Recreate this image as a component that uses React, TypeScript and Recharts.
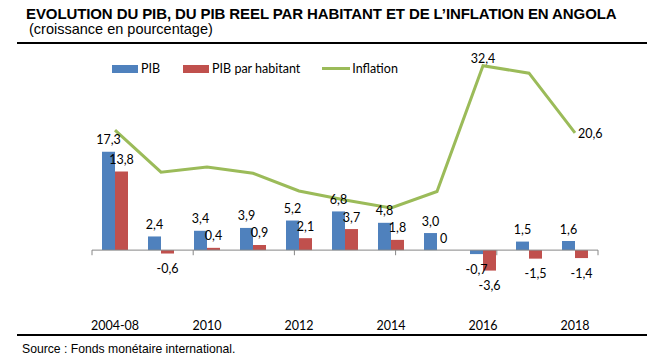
import React from "react";
import {
  ComposedChart,
  Bar,
  Line,
  XAxis,
  YAxis,
  ReferenceLine,
  LabelList,
} from "recharts";

const categories = ["2004-08", "2009", "2010", "2011", "2012", "2013", "2014", "2015", "2016", "2017", "2018"];
const pib = [17.3, 2.4, 3.4, 3.9, 5.2, 6.8, 4.8, 3.0, -0.7, 1.5, 1.6];
const pibHabitant = [13.8, -0.6, 0.4, 0.9, 2.1, 3.7, 1.8, 0, -3.6, -1.5, -1.4];
const inflation = [21.1, 13.7, 14.6, 13.5, 10.4, 8.8, 7.4, 10.3, 32.4, 31.1, 20.6];
const inflationLabelled = [8, 10];
const axisTickBoundaries = [0, 2, 4, 6, 8, 10];
const seriesNames = ["PIB", "PIB par habitant", "Inflation"];
const seriesColors = ["#4F81BD", "#C0504D", "#9BBB59"];

const data = categories.map((c, i) => ({
  cat: c,
  pib: pib[i],
  hab: pibHabitant[i],
  inf: inflation[i],
}));

const fmt = (v: number) => (v === 0 ? "0" : v.toFixed(1).replace(".", ","));

const LABEL_FONT = "Lato, 'Open Sans', sans-serif";
const BAR_SIZE = 13;

const BarLabel = (props: any) => {
  const { x, y, width, height, value } = props;
  const h = height || 0;
  const top = Math.min(y, y + h);
  const bottom = Math.max(y, y + h);
  const cx = x + width / 2;
  const ty = value < 0 ? bottom + 15 : top - 12;
  return (
    <text
      x={cx}
      y={ty}
      textAnchor="middle"
      dominantBaseline="central"
      fontFamily={LABEL_FONT}
      fontSize={12.5}
      fill="#000"
    >
      {fmt(Number(value))}
    </text>
  );
};

// label for zero-height bars (Recharts does not draw labels for them)
const ZeroLabel = (props: any) => {
  const { x, y, value } = props;
  if (value !== 0) return null;
  return (
    <text
      x={x + BAR_SIZE / 2}
      y={y - 12}
      textAnchor="middle"
      dominantBaseline="central"
      fontFamily={LABEL_FONT}
      fontSize={12.5}
      fill="#000"
    >
      {fmt(value)}
    </text>
  );
};

const LineLabel = (props: any) => {
  const { x, y, value, index } = props;
  if (!inflationLabelled.includes(index)) return null;
  const last = index === categories.length - 1;
  return (
    <text
      x={last ? x + 3 : x}
      y={last ? y + 1 : y - 7}
      textAnchor={last ? "start" : "middle"}
      dominantBaseline="central"
      fontFamily={LABEL_FONT}
      fontSize={12.5}
      fill="#000"
    >
      {fmt(value)}
    </text>
  );
};

const LegendBox = () => (
  <div
    style={{
      position: "absolute",
      left: 112,
      top: 61,
      display: "flex",
      alignItems: "center",
      fontFamily: LABEL_FONT,
      fontSize: 12.5,
      color: "#000",
      whiteSpace: "nowrap",
    }}
  >
    {seriesNames.map((n, i) => (
      <div key={n} style={{ display: "flex", alignItems: "center", marginRight: i === 0 ? 23 : 22 }}>
        {i === 2 ? (
          <div style={{ width: 28, height: 3, background: seriesColors[i], marginRight: 2 }} />
        ) : (
          <div style={{ width: 26, height: 8, background: seriesColors[i], marginRight: 3 }} />
        )}
        <span>{n}</span>
      </div>
    ))}
  </div>
);

export default function App() {
  return (
    <div style={{ position: "absolute", left: 0, top: 0, width: 667, height: 359, background: "#fff", overflow: "hidden" }}>
      <div
        style={{
          position: "absolute",
          left: 26,
          top: 5,
          fontFamily: "'Liberation Sans', Arial, sans-serif",
          fontWeight: "bold",
          fontSize: 15,
          letterSpacing: -0.1,
          whiteSpace: "nowrap",
          color: "#000",
        }}
      >
        EVOLUTION DU PIB, DU PIB REEL PAR HABITANT ET DE L’INFLATION EN ANGOLA
      </div>
      <div
        style={{
          position: "absolute",
          left: 29,
          top: 21,
          fontFamily: "'Liberation Sans', Arial, sans-serif",
          fontSize: 14.5,
          whiteSpace: "nowrap",
          color: "#000",
        }}
      >
        (croissance en pourcentage)
      </div>
      <div style={{ position: "absolute", left: 17, top: 42, width: 630, height: 2, background: "#000" }} />
      <div style={{ position: "absolute", left: 17, top: 334, width: 630, height: 2, background: "#000" }} />
      <div
        style={{
          position: "absolute",
          left: 22,
          top: 342,
          fontFamily: "'Liberation Sans', Arial, sans-serif",
          fontSize: 12.2,
          whiteSpace: "nowrap",
          color: "#000",
        }}
      >
        Source : Fonds monétaire international.
      </div>
      <LegendBox />
      <div style={{ position: "absolute", left: 0, top: 0 }}>
        <ComposedChart
          width={667}
          height={359}
          data={data}
          margin={{ top: 51, right: 69, bottom: 0, left: 92 }}
          barCategoryGap={10}
          barGap={0}
        >
          <XAxis
            dataKey="cat"
            interval={1}
            axisLine={false}
            tickLine={false}
            tickSize={0}
            tickMargin={14}
            height={52}
            tick={{ fontFamily: LABEL_FONT, fontSize: 12.5, fill: "#000" }}
          />
          <XAxis xAxisId="n" type="number" domain={[0, 11]} hide />
          <YAxis hide domain={[-10, 35]} allowDataOverflow />
          <ReferenceLine y={0} stroke="#868686" strokeWidth={1} />
          {axisTickBoundaries.map((b) => (
            <ReferenceLine
              key={b}
              xAxisId="n"
              segment={[
                { x: b, y: 0 },
                { x: b, y: -0.9 },
              ]}
              stroke="#868686"
              strokeWidth={1}
            />
          ))}
          <Bar dataKey="pib" name={seriesNames[0]} fill={seriesColors[0]} barSize={BAR_SIZE} isAnimationActive={false} label={<BarLabel />} />
          <Bar dataKey="hab" name={seriesNames[1]} fill={seriesColors[1]} barSize={BAR_SIZE} isAnimationActive={false} label={<BarLabel />} />
          <Line
            dataKey="hab"
            stroke="none"
            dot={false}
            activeDot={false}
            legendType="none"
            isAnimationActive={false}
          >
            <LabelList dataKey="hab" content={<ZeroLabel />} />
          </Line>
          <Line
            dataKey="inf"
            name={seriesNames[2]}
            type="linear"
            stroke={seriesColors[2]}
            strokeWidth={3}
            dot={false}
            isAnimationActive={false}
          >
            <LabelList dataKey="inf" content={<LineLabel />} />
          </Line>
        </ComposedChart>
      </div>
    </div>
  );
}
